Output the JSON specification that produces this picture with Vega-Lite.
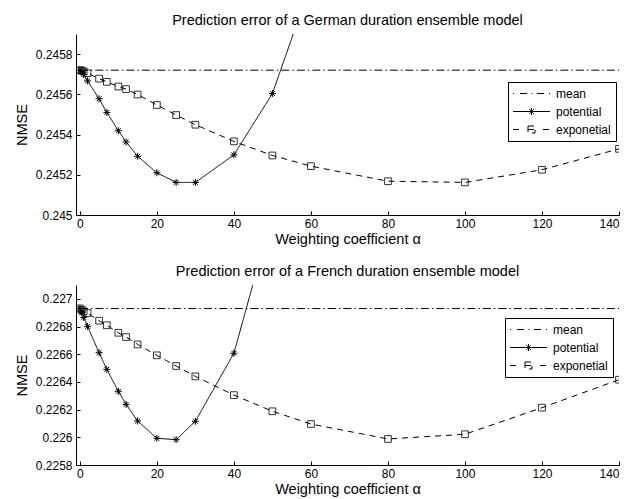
{
  "$schema": "https://vega.github.io/schema/vega-lite/v6.json",
  "background": "white",
  "autosize": {"type": "pad"},
  "padding": {"left": 14, "top": 12, "right": 5, "bottom": 5},
  "bounds": "flush",
  "spacing": 70,
  "config": {
    "font": "Liberation Sans",
    "view": {"stroke": null},
    "axis": {
      "grid": false,
      "domainColor": "black",
      "domainWidth": 1,
      "tickColor": "black",
      "tickWidth": 1,
      "tickSize": -4,
      "labelColor": "black",
      "labelFontSize": 12,
      "labelOverlap": false,
      "titleColor": "black",
      "titleFontSize": 14.5,
      "titleFontWeight": "normal"
    },
    "axisX": {"labelPadding": 7, "titlePadding": 3},
    "axisY": {"labelPadding": 8, "titlePadding": 6},
    "title": {"fontSize": 14.5, "fontWeight": "normal", "color": "black", "offset": 6},
    "legend": {
      "title": null,
      "strokeColor": "black", "fillColor": "white", "padding": 5,
      "labelFontSize": 12, "labelColor": "black", "labelOffset": 30, "rowPadding": 5,
      "symbolSize": 144, "symbolStrokeWidth": 1, "symbolStrokeColor": "black", "symbolFillColor": "transparent"
    }
  },
  "datasets": {
    "german": [
      {"series": "mean", "alpha": 0, "nmse": 0.24572},
      {"series": "mean", "alpha": 140, "nmse": 0.24572},
      {"series": "potential", "alpha": 0, "nmse": 0.24572},
      {"series": "potential", "alpha": 0.5, "nmse": 0.245712},
      {"series": "potential", "alpha": 1, "nmse": 0.245698},
      {"series": "potential", "alpha": 2, "nmse": 0.245667},
      {"series": "potential", "alpha": 5, "nmse": 0.245578},
      {"series": "potential", "alpha": 7, "nmse": 0.24551},
      {"series": "potential", "alpha": 10, "nmse": 0.245419},
      {"series": "potential", "alpha": 12, "nmse": 0.245363},
      {"series": "potential", "alpha": 15, "nmse": 0.245292},
      {"series": "potential", "alpha": 20, "nmse": 0.24521},
      {"series": "potential", "alpha": 25, "nmse": 0.245162},
      {"series": "potential", "alpha": 30, "nmse": 0.245162},
      {"series": "potential", "alpha": 40, "nmse": 0.245299},
      {"series": "potential", "alpha": 50, "nmse": 0.245604},
      {"series": "potential", "alpha": 60, "nmse": 0.24615},
      {"series": "exponetial", "alpha": 0, "nmse": 0.24572},
      {"series": "exponetial", "alpha": 0.5, "nmse": 0.245718},
      {"series": "exponetial", "alpha": 1, "nmse": 0.245714},
      {"series": "exponetial", "alpha": 2, "nmse": 0.245705},
      {"series": "exponetial", "alpha": 5, "nmse": 0.245678},
      {"series": "exponetial", "alpha": 7, "nmse": 0.245662},
      {"series": "exponetial", "alpha": 10, "nmse": 0.245639},
      {"series": "exponetial", "alpha": 12, "nmse": 0.245626},
      {"series": "exponetial", "alpha": 15, "nmse": 0.245599},
      {"series": "exponetial", "alpha": 20, "nmse": 0.245547},
      {"series": "exponetial", "alpha": 25, "nmse": 0.245497},
      {"series": "exponetial", "alpha": 30, "nmse": 0.245449},
      {"series": "exponetial", "alpha": 40, "nmse": 0.245366},
      {"series": "exponetial", "alpha": 50, "nmse": 0.245296},
      {"series": "exponetial", "alpha": 60, "nmse": 0.245243},
      {"series": "exponetial", "alpha": 80, "nmse": 0.245168},
      {"series": "exponetial", "alpha": 100, "nmse": 0.245162},
      {"series": "exponetial", "alpha": 120, "nmse": 0.245225},
      {"series": "exponetial", "alpha": 140, "nmse": 0.245329}
    ],
    "french": [
      {"series": "mean", "alpha": 0, "nmse": 0.22693},
      {"series": "mean", "alpha": 140, "nmse": 0.22693},
      {"series": "potential", "alpha": 0, "nmse": 0.226931},
      {"series": "potential", "alpha": 0.5, "nmse": 0.226903},
      {"series": "potential", "alpha": 1, "nmse": 0.226866},
      {"series": "potential", "alpha": 2, "nmse": 0.226801},
      {"series": "potential", "alpha": 5, "nmse": 0.226611},
      {"series": "potential", "alpha": 7, "nmse": 0.226491},
      {"series": "potential", "alpha": 10, "nmse": 0.226332},
      {"series": "potential", "alpha": 12, "nmse": 0.226238},
      {"series": "potential", "alpha": 15, "nmse": 0.226118},
      {"series": "potential", "alpha": 20, "nmse": 0.225993},
      {"series": "potential", "alpha": 25, "nmse": 0.225983},
      {"series": "potential", "alpha": 30, "nmse": 0.226116},
      {"series": "potential", "alpha": 40, "nmse": 0.226607},
      {"series": "potential", "alpha": 50, "nmse": 0.227613},
      {"series": "exponetial", "alpha": 0, "nmse": 0.226931},
      {"series": "exponetial", "alpha": 0.5, "nmse": 0.22692},
      {"series": "exponetial", "alpha": 1, "nmse": 0.22691},
      {"series": "exponetial", "alpha": 2, "nmse": 0.226897},
      {"series": "exponetial", "alpha": 5, "nmse": 0.226842},
      {"series": "exponetial", "alpha": 7, "nmse": 0.226809},
      {"series": "exponetial", "alpha": 10, "nmse": 0.226755},
      {"series": "exponetial", "alpha": 12, "nmse": 0.226724},
      {"series": "exponetial", "alpha": 15, "nmse": 0.226671},
      {"series": "exponetial", "alpha": 20, "nmse": 0.226592},
      {"series": "exponetial", "alpha": 25, "nmse": 0.226515},
      {"series": "exponetial", "alpha": 30, "nmse": 0.22644},
      {"series": "exponetial", "alpha": 40, "nmse": 0.226305},
      {"series": "exponetial", "alpha": 50, "nmse": 0.226188},
      {"series": "exponetial", "alpha": 60, "nmse": 0.226096},
      {"series": "exponetial", "alpha": 80, "nmse": 0.225988},
      {"series": "exponetial", "alpha": 100, "nmse": 0.226022},
      {"series": "exponetial", "alpha": 120, "nmse": 0.226214},
      {"series": "exponetial", "alpha": 140, "nmse": 0.226416}
    ]
  },
  "resolve": {"scale": {"strokeDash": "independent"}, "legend": {"strokeDash": "independent"}},
  "vconcat": [
    {
      "width": 543,
      "height": 181,
      "title": "Prediction error of a German duration ensemble model",
      "data": {"name": "german"},
      "layer": [
        {
          "mark": {"type": "line", "clip": true, "stroke": "black", "strokeWidth": 1},
          "encoding": {
            "x": {"field": "alpha", "type": "quantitative", "scale": {"domain": [-1, 140], "nice": false, "zero": false}, "axis": {"values": [0, 20, 40, 60, 80, 100, 120, 140], "tickCount": 20, "title": "Weighting coefficient α"}},
            "y": {"field": "nmse", "type": "quantitative", "scale": {"domain": [0.245, 0.2459], "nice": false, "zero": false}, "axis": {"values": [0.245, 0.2452, 0.2454, 0.2456, 0.2458], "tickCount": 20, "format": "~g", "labelOverlap": false, "title": "NMSE"}},
            "strokeDash": {
              "field": "series", "type": "nominal",
              "scale": {"domain": ["mean", "potential", "exponetial"], "range": [[8, 3, 1.5, 3], [1, 0], [6, 5]]},
              "legend": {
                "orient": "none", "legendX": 432, "legendY": 48,
                "encoding": {"symbols": {
                  "shape": {"value": {"expr": "datum.value === 'mean' ? 'M-1.083,0H-0.917M0.083,0H1.25M2,0H2.167M2.917,0H4.083M4.917,0H5.083' : datum.value === 'potential' ? 'M-1.083,0H5.083M2,-0.583V0.583M1.59,-0.41L2.41,0.41M1.59,0.41L2.41,-0.41' : 'M-1.083,0H0.083M1.417,-0.583H2.583V0.583H1.417ZM1.417,0H2.583M3.917,0H5.083'"}},
                  "strokeDash": {"value": [1, 0]},
                  "fill": {"value": "transparent"},
                  "stroke": {"value": "black"}
                }}
              }
            }
          }
        },
        {
          "transform": [{"filter": "datum.series === 'potential'"}],
          "mark": {"type": "point", "clip": true, "shape": "M-1,0H1M0,-1V1M-0.7,-0.7L0.7,0.7M-0.7,0.7L0.7,-0.7", "size": 49, "filled": false, "stroke": "black", "strokeWidth": 1, "opacity": 1},
          "encoding": {
            "x": {"field": "alpha", "type": "quantitative"},
            "y": {"field": "nmse", "type": "quantitative"}
          }
        },
        {
          "transform": [{"filter": "datum.series === 'exponetial'"}],
          "mark": {"type": "point", "clip": true, "shape": "square", "size": 45, "filled": false, "stroke": "black", "strokeWidth": 0.8, "opacity": 1},
          "encoding": {
            "x": {"field": "alpha", "type": "quantitative"},
            "y": {"field": "nmse", "type": "quantitative"}
          }
        }
      ]
    },
    {
      "width": 543,
      "height": 180,
      "title": "Prediction error of a French duration ensemble model",
      "data": {"name": "french"},
      "layer": [
        {
          "mark": {"type": "line", "clip": true, "stroke": "black", "strokeWidth": 1},
          "encoding": {
            "x": {"field": "alpha", "type": "quantitative", "scale": {"domain": [-1, 140], "nice": false, "zero": false}, "axis": {"values": [0, 20, 40, 60, 80, 100, 120, 140], "tickCount": 20, "title": "Weighting coefficient α"}},
            "y": {"field": "nmse", "type": "quantitative", "scale": {"domain": [0.2258, 0.2271], "nice": false, "zero": false}, "axis": {"values": [0.2258, 0.226, 0.2262, 0.2264, 0.2266, 0.2268, 0.227], "tickCount": 20, "format": "~g", "labelOverlap": false, "title": "NMSE"}},
            "strokeDash": {
              "field": "series", "type": "nominal",
              "scale": {"domain": ["mean", "potential", "exponetial"], "range": [[8, 3, 1.5, 3], [1, 0], [6, 5]]},
              "legend": {
                "orient": "none", "legendX": 429, "legendY": 33,
                "encoding": {"symbols": {
                  "shape": {"value": {"expr": "datum.value === 'mean' ? 'M-1.083,0H-0.917M0.083,0H1.25M2,0H2.167M2.917,0H4.083M4.917,0H5.083' : datum.value === 'potential' ? 'M-1.083,0H5.083M2,-0.583V0.583M1.59,-0.41L2.41,0.41M1.59,0.41L2.41,-0.41' : 'M-1.083,0H0.083M1.417,-0.583H2.583V0.583H1.417ZM1.417,0H2.583M3.917,0H5.083'"}},
                  "strokeDash": {"value": [1, 0]},
                  "fill": {"value": "transparent"},
                  "stroke": {"value": "black"}
                }}
              }
            }
          }
        },
        {
          "transform": [{"filter": "datum.series === 'potential'"}],
          "mark": {"type": "point", "clip": true, "shape": "M-1,0H1M0,-1V1M-0.7,-0.7L0.7,0.7M-0.7,0.7L0.7,-0.7", "size": 49, "filled": false, "stroke": "black", "strokeWidth": 1, "opacity": 1},
          "encoding": {
            "x": {"field": "alpha", "type": "quantitative"},
            "y": {"field": "nmse", "type": "quantitative"}
          }
        },
        {
          "transform": [{"filter": "datum.series === 'exponetial'"}],
          "mark": {"type": "point", "clip": true, "shape": "square", "size": 45, "filled": false, "stroke": "black", "strokeWidth": 0.8, "opacity": 1},
          "encoding": {
            "x": {"field": "alpha", "type": "quantitative"},
            "y": {"field": "nmse", "type": "quantitative"}
          }
        }
      ]
    }
  ]
}
